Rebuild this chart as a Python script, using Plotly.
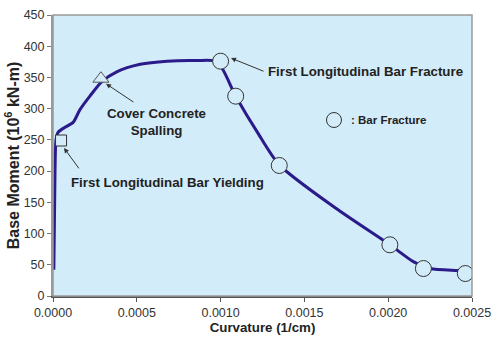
import plotly.graph_objects as go

# Moment-curvature curve
curv = [0.000005, 0.000012, 0.000018, 0.00003, 0.00007, 0.00012, 0.00016, 0.00022,
        0.00029, 0.00038, 0.00052, 0.00068, 0.00086, 0.00098, 0.00109, 0.00122,
        0.00135, 0.00169, 0.00201, 0.00215, 0.00225, 0.00240, 0.00254]
moment = [42, 200, 250, 262, 270, 278, 298, 320,
          343, 359, 371, 376, 377, 375, 320, 262,
          210, 140, 82, 55, 44, 41, 40]

# Event markers
yield_x, yield_y = [0.000048], [249]
spall_x, spall_y = [0.000286], [348]
frac_x = [0.0010, 0.00109, 0.00135, 0.00201, 0.00221, 0.00246]
frac_y = [376, 320, 209, 82, 44, 36]

x_ticks = [0.0, 0.0005, 0.0010, 0.0015, 0.0020, 0.0025]
y_ticks = [0, 50, 100, 150, 200, 250, 300, 350, 400, 450]

BG = "#D3ECF9"
LINE = "#2A1A8A"
FONT = "Liberation Sans, Arial, sans-serif"

fig = go.Figure()
fig.add_trace(go.Scatter(x=curv, y=moment, mode="lines",
                         line=dict(color=LINE, width=3, shape="spline", smoothing=0.7),
                         showlegend=False, hoverinfo="skip"))
fig.add_trace(go.Scatter(x=yield_x, y=yield_y, mode="markers", showlegend=False,
                         marker=dict(symbol="square", size=11, color=BG,
                                     line=dict(color="#333", width=1))))
fig.add_trace(go.Scatter(x=spall_x, y=spall_y, mode="markers", showlegend=False,
                         marker=dict(symbol="triangle-up", size=14, color=BG,
                                     line=dict(color="#555", width=1))))
fig.add_trace(go.Scatter(x=frac_x, y=frac_y, mode="markers", showlegend=False,
                         marker=dict(symbol="circle", size=16, color=BG,
                                     line=dict(color="#333", width=1))))

ann_font = dict(family=FONT, size=13.3, color="#222")
annotations = [
    # arrows
    dict(x=0.001062, y=381, ax=0.001265, ay=359, xref="x", yref="y", axref="x", ayref="y",
         text="", showarrow=True, arrowhead=2, arrowsize=1, arrowwidth=1, arrowcolor="#333"),
    dict(x=0.000316, y=340, ax=0.000489, ay=309, xref="x", yref="y", axref="x", ayref="y",
         text="", showarrow=True, arrowhead=2, arrowsize=1, arrowwidth=1, arrowcolor="#333"),
    dict(x=0.0000656, y=237, ax=0.000161, ay=202, xref="x", yref="y", axref="x", ayref="y",
         text="", showarrow=True, arrowhead=2, arrowsize=1, arrowwidth=1, arrowcolor="#333"),
    # labels
    dict(x=0.001271, y=359, xref="x", yref="y", text="<b>First Longitudinal Bar Fracture</b>",
         showarrow=False, xanchor="left", yanchor="middle", font=ann_font),
    dict(x=0.00062, y=279, xref="x", yref="y", text="<b>Cover Concrete<br>Spalling</b>",
         showarrow=False, xanchor="center", yanchor="middle", align="center", font=ann_font),
    dict(x=0.0000955, y=181, xref="x", yref="y", text="<b>First Longitudinal Bar Yielding</b>",
         showarrow=False, xanchor="left", yanchor="middle", font=ann_font),
    # key
    dict(x=0.7064, y=0.6263, xref="paper", yref="paper", text="<b>: Bar Fracture</b>",
         showarrow=False, xanchor="left", yanchor="middle",
         font=dict(family=FONT, size=11.5, color="#222")),
]

fig.update_layout(
    width=492, height=339,
    margin=dict(l=53, r=20, t=15, b=43),
    paper_bgcolor="white", plot_bgcolor=BG,
    font=dict(family=FONT, size=12.5, color="#333"),
    annotations=annotations,
    showlegend=False,
    shapes=[
        dict(type="rect", xref="paper", yref="paper", x0=0, y0=0, x1=1, y1=1,
             line=dict(color="#999", width=1.5), layer="above"),
        dict(type="circle", xref="paper", yref="paper", x0=0.6527, x1=0.6885,
             y0=0.5996, y1=0.653, line=dict(color="#333", width=1), fillcolor=BG),
    ],
)
fig.update_xaxes(range=[0, 0.0025], tickvals=x_ticks, tickformat=".4f", automargin=False,
                 showgrid=False, zeroline=False, showline=True, linecolor="#555", linewidth=1.5,
                 ticks="outside", ticklen=4, tickcolor="#555",
                 title=dict(text="<b>Curvature (1/cm)</b>", standoff=4,
                            font=dict(size=13.3, color="#222")))
fig.update_yaxes(range=[0, 450], tickvals=y_ticks, automargin=False,
                 showgrid=False, zeroline=False, showline=True, linecolor="#999", linewidth=2,
                 ticks="outside", ticklen=4, tickcolor="#777",
                 title=dict(text="<b>Base Moment (10<sup>6</sup> kN-m)</b>", standoff=0,
                            font=dict(size=16, color="#222")))

# remove the page's default 8px body margin so the figure fills the window exactly
fig.write_html("out.html", config={"displayModeBar": False},
               post_script="document.body.style.margin='0';")
